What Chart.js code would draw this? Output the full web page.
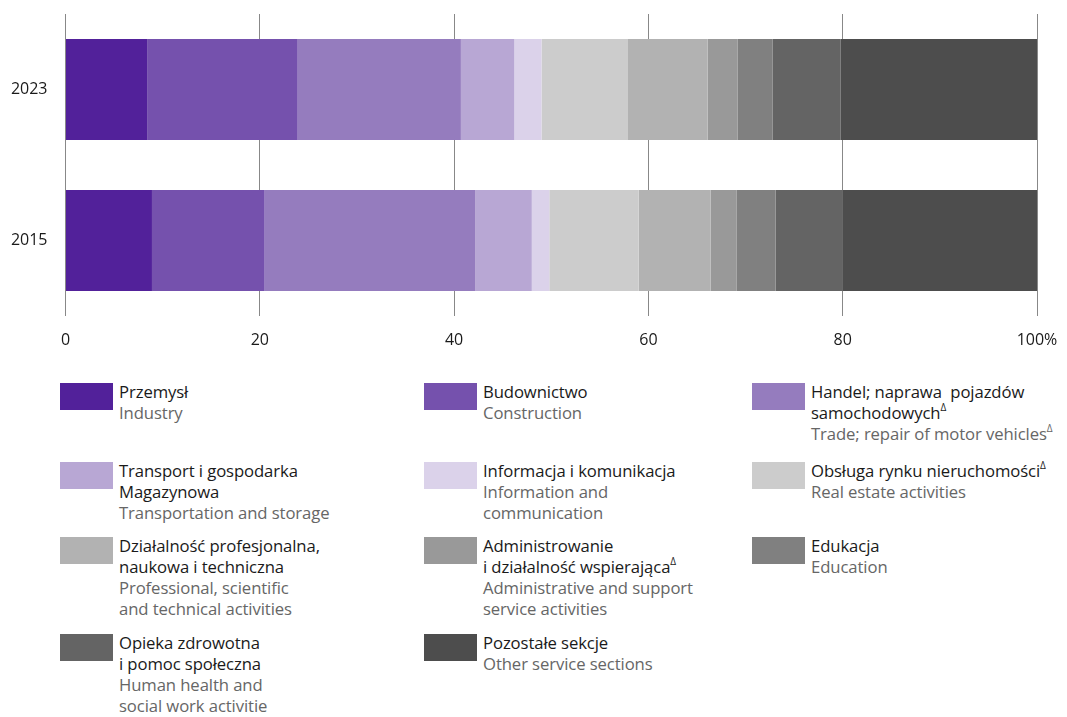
<!DOCTYPE html>
<html>
<head>
<meta charset="utf-8">
<script src="https://cdn.jsdelivr.net/npm/chart.js@4"></script>
<style>
  body { margin: 0; background: #fff; font-family: "Open Sans", sans-serif; }
  #wrap { position: relative; width: 1067px; height: 717px; }
  #chartBox { position: absolute; left: 0; top: 0; width: 1067px; height: 360px; }
  .item { position: absolute; display: flex; }
  .sw { width: 53px; height: 27px; flex: none; }
  .txt { margin-left: 6px; font-size: 16.7px; line-height: 21px; margin-top: -2px; white-space: pre-line; letter-spacing: -0.1px; }
  .pl { color: #1a1a1a; }
  .en { color: #666666; }
  sup { font-size: 10px; vertical-align: 8px; line-height: 0; }
</style>
</head>
<body>
<div id="wrap">
  <div id="chartBox"><canvas id="chart"></canvas></div>
  <div id="legend"></div>
</div>
<script>
const years = ["2023", "2015"];
const tickLabels = ["0", "20", "40", "60", "80", "100%"];

const sectorsPl = [
  "Przemysł",
  "Budownictwo",
  "Handel; naprawa\u00a0 pojazdów\nsamochodowych^",
  "Transport i gospodarka\nMagazynowa",
  "Informacja i komunikacja",
  "Obsługa rynku nieruchomości^",
  "Działalność profesjonalna,\nnaukowa i techniczna",
  "Administrowanie\ni działalność wspierająca^",
  "Edukacja",
  "Opieka zdrowotna\ni pomoc społeczna",
  "Pozostałe sekcje"
];
const sectorsEn = [
  "Industry",
  "Construction",
  "Trade; repair of motor vehicles^",
  "Transportation and storage",
  "Information and\ncommunication",
  "Real estate activities",
  "Professional, scientific\nand technical activities",
  "Administrative and support\nservice activities",
  "Education",
  "Human health and\nsocial work activitie",
  "Other service sections"
];
const colors = ["#52219a", "#7551ad", "#957cbe", "#b8a7d4", "#dbd2ea", "#cccccc",
                "#b2b2b2", "#999999", "#808080", "#646464", "#4d4d4d"];

// shares in %
const share2023 = [8.4, 15.5, 16.8, 5.5, 2.8, 8.9, 8.2, 3.1, 3.6, 7.0, 20.2];
const share2015 = [8.9, 11.6, 21.7, 5.8, 1.8, 9.2, 7.4, 2.7, 4.0, 6.9, 20.0];

const datasets = sectorsPl.map((name, i) => ({
  label: name,
  data: [share2023[i], share2015[i]],
  backgroundColor: colors[i],
  borderWidth: 0,
  barPercentage: 0.67,
  categoryPercentage: 1
}));

new Chart(document.getElementById("chart"), {
  type: "bar",
  data: { labels: years, datasets: datasets },
  options: {
    indexAxis: "y",
    responsive: true,
    maintainAspectRatio: false,
    animation: false,
    layout: { padding: { top: 14, right: 30, left: 0, bottom: 0 } },
    plugins: { legend: { display: false }, tooltip: { enabled: false } },
    scales: {
      x: {
        stacked: true,
        min: 0,
        max: 100,
        afterFit: (s) => { s.height = 44; s.paddingLeft = 0; s.paddingRight = 0; },
        ticks: {
          stepSize: 20,
          padding: 15,
          color: "#1a1a1a",
          font: { family: "Open Sans", size: 16 },
          callback: (v, i) => tickLabels[i]
        },
        grid: { color: "#888888", lineWidth: 1, drawTicks: false },
        border: { display: false }
      },
      y: {
        stacked: true,
        afterFit: (s) => { s.width = 65.5; s.paddingTop = 0; s.paddingBottom = 0; },
        ticks: {
          padding: 18,
          color: "#1a1a1a",
          font: { family: "Open Sans", size: 16 }
        },
        grid: { display: false, drawTicks: false },
        border: { display: false }
      }
    }
  }
});

// legend, row-major in three columns
const colLeft = [60, 424, 752];
const rowTop = [383, 462, 537, 634];
const fmt = (s) => s.replace(/\^/g, "<sup>\u0394</sup>");
const legend = document.getElementById("legend");
sectorsPl.forEach((name, i) => {
  const el = document.createElement("div");
  el.className = "item";
  el.style.left = colLeft[i % 3] + "px";
  el.style.top = rowTop[Math.floor(i / 3)] + "px";
  el.innerHTML = '<div class="sw" style="background:' + colors[i] + '"></div>' +
    '<div class="txt"><div class="pl">' + fmt(name) + '</div><div class="en">' + fmt(sectorsEn[i]) + '</div></div>';
  legend.appendChild(el);
});
</script>
</body>
</html>
